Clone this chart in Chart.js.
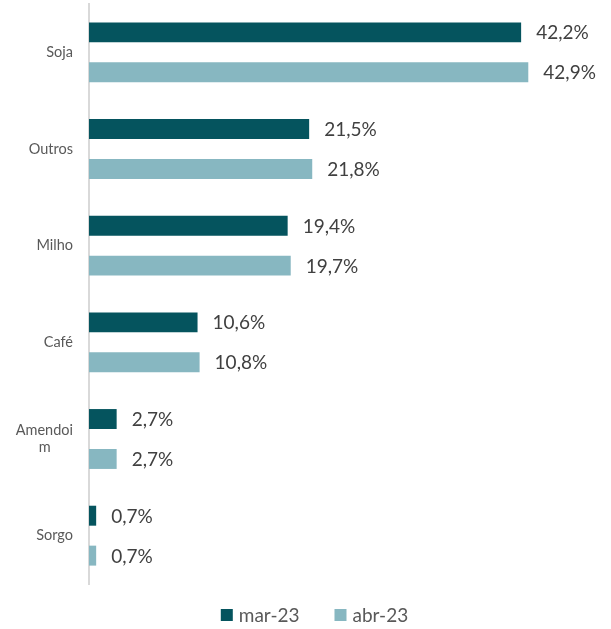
<!DOCTYPE html>
<html><head><meta charset="utf-8">
<script src="https://cdn.jsdelivr.net/npm/chart.js@4/dist/chart.umd.min.js"></script>
<style>html,body{margin:0;padding:0;background:#fff}#wrap{width:611px;height:629px}</style>
</head><body><div id="wrap"><canvas id="c"></canvas></div>
<script>
const categories = ["Soja", "Outros", "Milho", "Café", ["Amendoi", "m"], "Sorgo"];
const seriesNames = ["mar-23", "abr-23"];
const mar23 = [42.2, 21.5, 19.4, 10.6, 2.7, 0.7];
const abr23 = [42.9, 21.8, 19.7, 10.8, 2.7, 0.7];
const xMax = 50;

const tickFont = '14.5px Lato';
const measureCtx = document.createElement('canvas').getContext('2d');

// Lines of a wrapped label are centred under each other (right-aligned block).
function centreLines(label) {
  if (!Array.isArray(label)) return label;
  measureCtx.font = tickFont;
  const sp = measureCtx.measureText('\u00A0').width || 3;
  const widths = label.map(l => measureCtx.measureText(l).width);
  const maxW = Math.max(...widths);
  return label.map((l, i) => l + '\u00A0'.repeat(Math.round((maxW - widths[i]) / 2 / sp)));
}

const labelPlugin = {
  id: 'barLabels',
  afterDatasetsDraw(chart) {
    const ctx = chart.ctx;
    ctx.save();
    ctx.font = '19px Lato';
    ctx.fillStyle = '#404040';
    ctx.textAlign = 'left';
    ctx.textBaseline = 'middle';
    chart.data.datasets.forEach((ds, i) => {
      const meta = chart.getDatasetMeta(i);
      meta.data.forEach((bar, j) => {
        const txt = ds.data[j].toFixed(1).replace('.', ',') + '%';
        ctx.fillText(txt, bar.x + 15, bar.y + 1);
      });
    });
    ctx.restore();
  }
};

const legendPlugin = {
  id: 'bottomLegend',
  afterDraw(chart) {
    const ctx = chart.ctx;
    ctx.save();
    ctx.font = '19px Lato';
    ctx.textBaseline = 'middle';
    ctx.textAlign = 'left';
    const box = 12, gapText = 6, gapItem = 35;
    const items = chart.data.datasets.map(ds => ({ text: ds.label, color: ds.backgroundColor, w: ctx.measureText(ds.label).width }));
    const total = items.reduce((a, it) => a + box + gapText + it.w, 0) + gapItem * (items.length - 1);
    let x = chart.width / 2 + 9 - total / 2;
    const y = 615;
    items.forEach(it => {
      ctx.fillStyle = it.color;
      ctx.fillRect(x, y - box / 2, box, box);
      ctx.fillStyle = '#595959';
      ctx.fillText(it.text, x + box + gapText, y + 1);
      x += box + gapText + it.w + gapItem;
    });
    ctx.restore();
  }
};

new Chart(document.getElementById('c'), {
  type: 'bar',
  data: {
    labels: categories,
    datasets: [
      { label: seriesNames[0], data: mar23, backgroundColor: '#05545E' },
      { label: seriesNames[1], data: abr23, backgroundColor: '#87B7C1' }
    ]
  },
  options: {
    indexAxis: 'y',
    responsive: true,
    maintainAspectRatio: false,
    animation: false,
    layout: { padding: { top: 4, right: 10, left: 0, bottom: 45 } },
    datasets: { bar: { categoryPercentage: 0.826, barPercentage: 0.5 } },
    scales: {
      x: { display: false, min: 0, max: xMax },
      y: {
        grid: { display: false, drawTicks: false },
        border: { display: true, color: '#D9D9D9', width: 2 },
        ticks: {
          color: '#595959', font: { family: 'Lato', size: 14.5 }, crossAlign: 'near', padding: 16,
          callback(value) { return centreLines(this.getLabelForValue(value)); }
        },
        afterFit(s) { s.width = 89; s.paddingTop = 0; s.paddingBottom = 0; }
      }
    },
    plugins: {
      legend: { display: false },
      tooltip: { enabled: false }
    }
  },
  plugins: [labelPlugin, legendPlugin]
});
</script></body></html>
